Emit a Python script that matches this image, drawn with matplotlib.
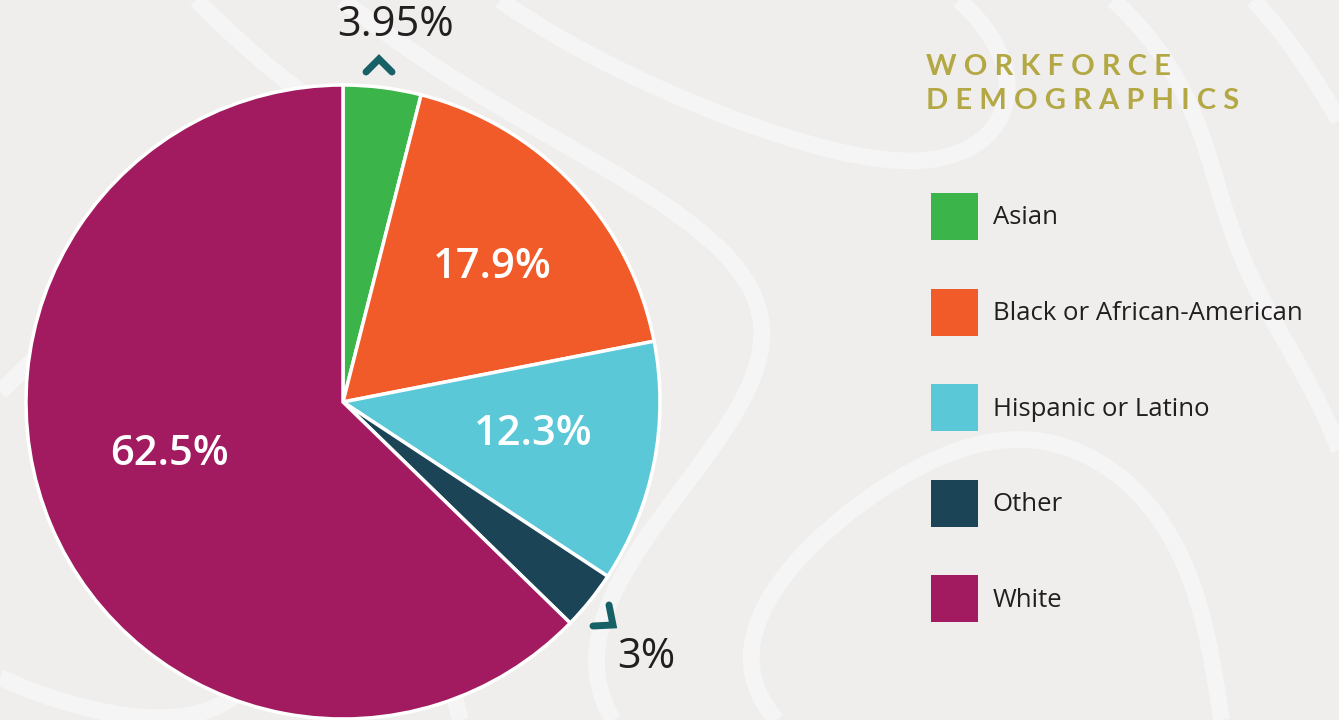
import matplotlib.pyplot as plt
from matplotlib.patches import Patch
import numpy as np

# workforce demographics (percent)
groups = ["Asian", "Black or African-American", "Hispanic or Latino", "Other", "White"]
shares = [3.95, 17.9, 12.3, 3.0, 62.5]
share_labels = ["3.95%", "17.9%", "12.3%", "3%", "62.5%"]
colors = ["#3bb54a", "#f15a29", "#5bc8d8", "#1c4457", "#a21b60"]

W, H = 1339, 720
fig = plt.figure(figsize=(W / 100, H / 100), dpi=100)
fig.patch.set_facecolor("#efeeed")
ax = fig.add_axes([0, 0, 1, 1])

# soft topographic-ish streaks in the background
gx, gy = np.meshgrid(np.linspace(0, W, 300), np.linspace(0, H, 160))
field = np.sin(gx / 260.0 + 0.8 * np.cos(gy / 180.0) + gy / 300.0) + 0.3 * np.sin(gy / 120.0 - gx / 500.0)
ax.contour(gx, gy, field, levels=[-0.9, -0.3, 0.3, 0.9], colors="white",
           linewidths=12, alpha=0.45, linestyles="solid", zorder=0)

cx, cy, r = 343, 720 - 402, 317
wedges, _ = ax.pie(shares, colors=colors, startangle=90, counterclock=False,
                   center=(cx, cy), radius=r, frame=True,
                   wedgeprops=dict(edgecolor="white", linewidth=2.5))
ax.set_xlim(0, W)
ax.set_ylim(0, H)
ax.set_aspect("equal")
ax.axis("off")

num_font = "Open Sans"
# labels inside the larger slices
inside = {1: (492, 267), 2: (533, 434), 4: (170, 454)}
for i, (x, y) in inside.items():
    ax.text(x, H - y, share_labels[i], color="white", fontsize=30, fontweight="semibold",
            family=num_font, ha="center", va="center", zorder=5)

# labels outside the thin slices, with chevron markers
ax.text(396, H - 25, share_labels[0], color="#231f20", fontsize=30, fontweight="medium",
        family=num_font, ha="center", va="center")
ax.text(646, H - 657, share_labels[3], color="#231f20", fontsize=30, fontweight="medium",
        family=num_font, ha="center", va="center")
teal = "#176066"
ax.plot([366, 379, 392], [H - 72, H - 59, H - 72], color=teal, lw=5, solid_capstyle="round",
        solid_joinstyle="miter")
ax.plot([593, 613, 609], [H - 626, H - 625, H - 605], color=teal, lw=5, solid_capstyle="round",
        solid_joinstyle="miter")

# title
olive = "#b3a843"
ax.text(926, H - 67, "W O R K F O R C E", color=olive, fontsize=21, fontweight="bold",
        family="Lato", ha="left", va="center")
ax.text(926, H - 101, "D E M O G R A P H I C S", color=olive, fontsize=21, fontweight="bold",
        family="Lato", ha="left", va="center")

handles = [Patch(facecolor=c, edgecolor="none") for c in colors]
ax.legend(handles, groups, loc="upper left", bbox_to_anchor=(931 / W, 1 - 193 / H),
          frameon=False, borderpad=0, borderaxespad=0, handlelength=1.82, handleheight=2.45,
          labelspacing=1.88, handletextpad=0.58,
          prop={"family": "Open Sans", "size": 18.5}, labelcolor="#231f20")

fig.savefig("out.png", dpi=100, facecolor=fig.get_facecolor())
